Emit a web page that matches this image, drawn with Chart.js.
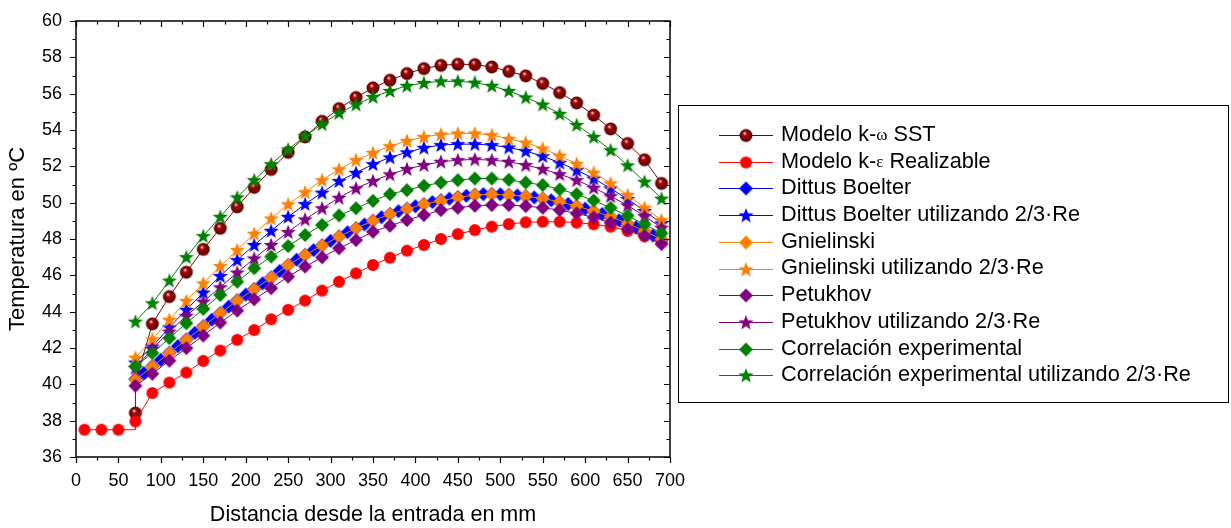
<!DOCTYPE html>
<html>
<head>
<meta charset="utf-8">
<script src="https://cdn.jsdelivr.net/npm/chart.js@4/dist/chart.umd.min.js"></script>
<style>
  html, body { margin: 0; padding: 0; background: #fff; }
  #wrap { position: relative; width: 1231px; height: 528px; }
</style>
</head>
<body>
<div id="wrap"><canvas id="chart" width="1231" height="528"></canvas></div>
<script>
// distancia desde la entrada (mm)
const distances = [70, 90, 110, 130, 150, 170, 190, 210, 230, 250, 270, 290, 310, 330, 350, 370,
  390, 410, 430, 450, 470, 490, 510, 530, 550, 570, 590, 610, 630, 650, 670, 690];
const kwDistances = [70, 70, 90, 110, 130, 150, 170, 190, 210, 230, 250, 270, 290, 310, 330, 350,
  370, 390, 410, 430, 450, 470, 490, 510, 530, 550, 570, 590, 610, 630, 650, 670, 690];
const keDistances = [10, 30, 50, 70, 70, 90, 110, 130, 150, 170, 190, 210, 230, 250, 270, 290, 310,
  330, 350, 370, 390, 410, 430, 450, 470, 490, 510, 530, 550, 570, 590, 610, 630, 650, 670, 690];
const dbDistances = [70, 80, 90, 100, 110, 120, 130, 140, 150, 160, 170, 180, 190, 200, 210, 220,
  230, 240, 250, 260, 270, 280, 290, 300, 310, 320, 330, 340, 350, 360, 370, 380, 390, 400, 410,
  420, 430, 440, 450, 460, 470, 480, 490, 500, 510, 520, 530, 540, 550, 560, 570, 580, 590, 600,
  610, 620, 630, 640, 650, 660, 670, 680, 690];

// temperaturas (ºC)
const kwSST = [38.42, 40.1, 43.33, 44.83, 46.17, 47.43, 48.59, 49.77, 50.84, 51.83, 52.77, 53.62,
  54.48, 55.18, 55.79, 56.32, 56.74, 57.11, 57.38, 57.56, 57.62, 57.6, 57.47, 57.23, 56.98, 56.56,
  56.06, 55.49, 54.82, 54.06, 53.26, 52.36, 51.06];
const keRealizable = [37.5, 37.5, 37.5, 37.5, 37.96, 39.52, 40.1, 40.65, 41.29, 41.86, 42.45, 42.99,
  43.58, 44.1, 44.61, 45.16, 45.65, 46.11, 46.57, 46.97, 47.36, 47.67, 48.0, 48.27, 48.49, 48.68,
  48.82, 48.92, 48.95, 48.95, 48.9, 48.81, 48.68, 48.45, 48.15, 47.85];
const dittus = [40.3, 40.62, 41.0, 41.35, 41.74, 42.1, 42.47, 42.83, 43.2, 43.56, 43.93, 44.28, 44.63,
  44.94, 45.25, 45.56, 45.89, 46.24, 46.57, 46.86, 47.13, 47.39, 47.65, 47.9, 48.14, 48.37, 48.6,
  48.8, 49.01, 49.2, 49.38, 49.53, 49.67, 49.8, 49.93, 50.03, 50.13, 50.22, 50.31, 50.38, 50.44,
  50.47, 50.48, 50.46, 50.43, 50.4, 50.35, 50.29, 50.22, 50.13, 50.04, 49.93, 49.8, 49.67, 49.52,
  49.37, 49.2, 49.03, 48.84, 48.64, 48.42, 48.19, 47.95];
const dittusRe = [41.2, 42.08, 43.14, 44.1, 45.05, 45.96, 46.84, 47.67, 48.45, 49.22, 49.92, 50.55,
  51.19, 51.64, 52.12, 52.49, 52.77, 53.02, 53.17, 53.22, 53.22, 53.17, 53.04, 52.84, 52.56, 52.2,
  51.79, 51.33, 50.78, 50.2, 49.54, 48.86];
const gnielinski = [40.25, 40.98, 41.72, 42.45, 43.18, 43.91, 44.61, 45.23, 45.87, 46.57, 47.12,
  47.64, 48.13, 48.59, 49.0, 49.37, 49.65, 49.92, 50.1, 50.29, 50.42, 50.46, 50.42, 50.36, 50.23,
  50.05, 49.81, 49.54, 49.23, 48.86, 48.44, 47.98];
const gnielinskiRe = [41.47, 42.48, 43.55, 44.59, 45.56, 46.51, 47.39, 48.29, 49.13, 49.91, 50.57,
  51.24, 51.83, 52.34, 52.74, 53.11, 53.4, 53.62, 53.75, 53.81, 53.81, 53.72, 53.51, 53.31, 52.98,
  52.58, 52.14, 51.65, 51.06, 50.42, 49.72, 49.04];
const petukhov = [39.92, 40.58, 41.3, 41.99, 42.68, 43.4, 44.06, 44.68, 45.29, 45.93, 46.48, 46.99,
  47.49, 47.94, 48.4, 48.73, 49.04, 49.32, 49.59, 49.72, 49.83, 49.87, 49.87, 49.81, 49.72, 49.59,
  49.41, 49.19, 48.9, 48.55, 48.18, 47.72];
const petukhovRe = [40.9, 41.95, 42.9, 43.77, 44.55, 45.34, 46.15, 46.93, 47.67, 48.38, 49.08, 49.69,
  50.27, 50.79, 51.19, 51.56, 51.85, 52.07, 52.25, 52.34, 52.38, 52.34, 52.25, 52.07, 51.85, 51.57,
  51.24, 50.82, 50.36, 49.85, 49.26, 48.62];
const correlacion = [40.99, 41.72, 42.54, 43.36, 44.15, 44.92, 45.65, 46.39, 47.03, 47.61, 48.22,
  48.77, 49.3, 49.69, 50.1, 50.47, 50.69, 50.93, 51.1, 51.24, 51.33, 51.33, 51.26, 51.11, 50.97,
  50.73, 50.47, 50.12, 49.72, 49.28, 48.81, 48.31];
const correlacionRe = [43.45, 44.46, 45.71, 47.0, 48.16, 49.22, 50.29, 51.24, 52.12, 52.93, 53.66,
  54.32, 54.94, 55.4, 55.82, 56.15, 56.43, 56.59, 56.68, 56.68, 56.61, 56.43, 56.15, 55.79, 55.4,
  54.89, 54.28, 53.62, 52.89, 52.05, 51.15, 50.22];

const FONT = '"Liberation Sans", Arial, sans-serif';

// marker images
function markerCanvas(kind, color) {
  const c = document.createElement('canvas');
  c.width = 18; c.height = 18;
  const g = c.getContext('2d');
  const cx = 9, cy = 9;
  g.fillStyle = color;
  g.beginPath();
  if (kind === 'sphere') {
    const grad = g.createRadialGradient(cx - 1.5, cy - 2.5, 0.3, cx, cy, 6.5);
    grad.addColorStop(0, '#f2d2d2');
    grad.addColorStop(0.3, '#9a0a0a');
    grad.addColorStop(0.75, '#7a0000');
    grad.addColorStop(1, '#4a0000');
    g.fillStyle = grad;
    g.arc(cx, cy, 6.5, 0, Math.PI * 2);
  } else if (kind === 'circle') {
    g.arc(cx, cy, 6, 0, Math.PI * 2);
  } else if (kind === 'diamond') {
    g.moveTo(cx, cy - 7); g.lineTo(cx + 7, cy); g.lineTo(cx, cy + 7); g.lineTo(cx - 7, cy);
    g.closePath();
  } else {
    for (let k = 0; k < 10; k++) {
      const r = k % 2 === 0 ? 8 : 3.3;
      const a = -Math.PI / 2 + k * Math.PI / 5;
      const px = cx + r * Math.cos(a), py = cy + 0.5 + r * Math.sin(a);
      if (k === 0) g.moveTo(px, py); else g.lineTo(px, py);
    }
    g.closePath();
  }
  g.fill();
  return c;
}

function series(label, xs, ys, color, kind, i) {
  const img = markerCanvas(kind, color);
  return {
    label,
    data: xs.map((x, k) => ({ x, y: ys[k] })),
    borderColor: color,
    backgroundColor: color,
    borderWidth: 1,
    pointStyle: img,
    pointRadius: 6,
    pointHoverRadius: 6,
    tension: 0,
    fill: false,
    order: 20 - i,
    marker: img
  };
}

const datasets = [
  series('Modelo k-ω SST', kwDistances, kwSST, '#800000', 'sphere', 0),
  series('Modelo k-ε Realizable', keDistances, keRealizable, '#ff0000', 'circle', 1),
  series('Dittus Boelter', dbDistances, dittus, '#0000ff', 'diamond', 2),
  series('Dittus Boelter utilizando 2/3·Re', distances, dittusRe, '#0000ff', 'star', 3),
  series('Gnielinski', distances, gnielinski, '#ff8000', 'diamond', 4),
  series('Gnielinski utilizando 2/3·Re', distances, gnielinskiRe, '#ff8000', 'star', 5),
  series('Petukhov', distances, petukhov, '#800080', 'diamond', 6),
  series('Petukhov utilizando 2/3·Re', distances, petukhovRe, '#800080', 'star', 7),
  series('Correlación experimental', distances, correlacion, '#008000', 'diamond', 8),
  series('Correlación experimental utilizando 2/3·Re', distances, correlacionRe, '#008000', 'star', 9)
];
// the steps at x = 70 carry no marker on their inner corner
datasets[0].pointRadius = (c) => (c.dataIndex === 1 ? 0 : 6);
datasets[1].pointRadius = (c) => (c.dataIndex === 3 ? 0 : 6);

// axes frame with inner / outer minor ticks
const framePlugin = {
  id: 'frame',
  afterDatasetsDraw(chart) {
    const { ctx, chartArea: a, scales: { x, y } } = chart;
    ctx.save();
    ctx.strokeStyle = '#000';
    ctx.lineWidth = 1.5;
    ctx.strokeRect(a.left, a.top, a.right - a.left, a.bottom - a.top);
    ctx.lineWidth = 1.2;
    ctx.beginPath();
    for (let v = 0; v <= 700; v += 25) {
      const px = Math.round(x.getPixelForValue(v)) + 0.5;
      const len = v % 50 === 0 ? 6 : 3.5;
      ctx.moveTo(px, a.bottom); ctx.lineTo(px, a.bottom + len);
      ctx.moveTo(px, a.top); ctx.lineTo(px, a.top + len);
    }
    for (let v = 36; v <= 60; v += 1) {
      const py = Math.round(y.getPixelForValue(v)) + 0.5;
      const len = v % 2 === 0 ? 6 : 3.5;
      ctx.moveTo(a.left, py); ctx.lineTo(a.left - len, py);
      ctx.moveTo(a.right, py); ctx.lineTo(a.right - len, py);
    }
    ctx.stroke();
    ctx.restore();
  }
};

// legend box on the right
const legendPlugin = {
  id: 'sideLegend',
  afterDraw(chart) {
    const ctx = chart.ctx;
    const box = { left: 678.5, top: 105.5, right: 1228.5, bottom: 402.5 };
    ctx.save();
    ctx.strokeStyle = '#000';
    ctx.lineWidth = 1;
    ctx.strokeRect(box.left, box.top, box.right - box.left, box.bottom - box.top);
    ctx.textBaseline = 'middle';
    ctx.fillStyle = '#000';
    chart.data.datasets.forEach((ds, i) => {
      const cy = 135 + i * 26.7;
      ctx.strokeStyle = ds.borderColor;
      ctx.lineWidth = 1;
      ctx.beginPath();
      ctx.moveTo(719, Math.round(cy) + 0.5); ctx.lineTo(773, Math.round(cy) + 0.5);
      ctx.stroke();
      ctx.drawImage(ds.marker, 746 - 9, Math.round(cy) - 9 + 0.5);
      let tx = 781;
      ds.label.split(/([ωε])/).forEach((part) => {
        if (!part) return;
        const greek = /[ωε]/.test(part);
        ctx.font = greek ? '17px "Liberation Serif", serif' : '21.7px ' + FONT;
        ctx.fillStyle = '#000';
        ctx.fillText(part, tx, cy + (greek ? 1 : 0));
        tx += ctx.measureText(part).width;
      });
    });
    ctx.restore();
  }
};

new Chart(document.getElementById('chart'), {
  type: 'line',
  data: { datasets },
  options: {
    responsive: false,
    animation: false,
    events: [],
    layout: { padding: { top: 21, right: 561, left: 0, bottom: 0 } },
    plugins: { legend: { display: false }, tooltip: { enabled: false } },
    scales: {
      x: {
        type: 'linear', min: 0, max: 700,
        grid: { display: false, drawTicks: false },
        border: { display: false },
        ticks: { stepSize: 50, color: '#000', font: { family: FONT, size: 18 }, padding: 13, maxRotation: 0 },
        title: { display: true, text: 'Distancia desde la entrada en mm', color: '#000',
          font: { family: FONT, size: 21.5 }, padding: { top: 0, bottom: 0 } },
        afterFit(scale) { scale.height = 71; }
      },
      y: {
        type: 'linear', min: 36, max: 60,
        grid: { display: false, drawTicks: false },
        border: { display: false },
        ticks: { stepSize: 2, color: '#000', font: { family: FONT, size: 18 }, padding: 14 },
        title: { display: true, text: 'Temperatura en ºC', color: '#000',
          font: { family: FONT, size: 22 }, padding: { top: 5, bottom: 0 } },
        afterFit(scale) {
          scale.width = 76;
          scale.paddingTop = 0;
          scale.paddingBottom = 0;
        }
      }
    }
  },
  plugins: [framePlugin, legendPlugin]
});
</script>
</body>
</html>
